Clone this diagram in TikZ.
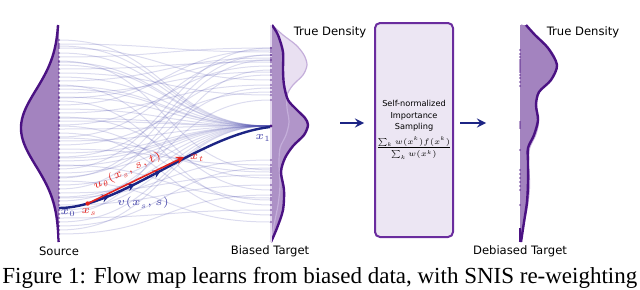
\RequirePackage{fix-cm}
\documentclass[tikz,border=0pt]{standalone}
\usepackage{amsmath,amssymb}
\usepackage{fontspec}
\setmainfont{Liberation Serif}
\newfontfamily\labfont{DejaVu Sans}
\usepackage{tikz}
\definecolor{densfill}{HTML}{A383BF}
\definecolor{densline}{HTML}{4B1283}
\definecolor{truefill}{HTML}{E3D8EE}
\definecolor{trueline}{HTML}{C4AEDA}
\definecolor{trajblue}{HTML}{5050AE}
\definecolor{navy}{HTML}{1C2484}
\definecolor{flowred}{HTML}{E3231E}
\definecolor{labblue}{HTML}{4242A8}
\definecolor{boxfill}{HTML}{ECE6F3}
\definecolor{boxline}{HTML}{6A2C9E}

\begin{document}
\begin{tikzpicture}[x=0.5pt,y=-0.5pt,
  traj/.style={trajblue,opacity=0.2,line width=0.5pt},
  dens/.style={densline,line width=1.2pt},
  samp/.style={densline,opacity=0.55},
  lab/.style={font=\labfont\fontsize{5.8}{7}\selectfont,inner sep=0pt},
  mathlab/.style={font=\fontsize{5.7}{7}\selectfont,inner sep=0pt},
  panelarr/.style={navy,line width=1pt,-stealth},
  tangarr/.style={navy,line width=0.8pt,-stealth}]
\useasboundingbox (0,0) rectangle (640,289);
\fill[densfill] (59,25) -- plot[domain=25:242,samples=80] ({59-38*exp(-(\x-128)*(\x-128)/2888)},\x) -- (59,242) -- cycle;
\draw[dens] plot[domain=25:242,samples=80] ({59-38*exp(-(\x-128)*(\x-128)/2888)},\x);
\draw[white,opacity=0.6,line width=0.5pt] (59,28) -- (59,238);
\fill[truefill,opacity=0.8] (271,25) -- plot[smooth] coordinates {(272,25) (283,35) (296,45) (304,55) (307,65) (303,75) (293,85) (287,95) (287,108) (289,122) (286,135) (280,148) (279,165) (280,185) (278,205) (274,225) (271,242)} -- cycle;
\fill[densfill,opacity=0.85] (271,25) -- plot[smooth] coordinates {(272,25) (278,35) (283,52) (283,70) (284,85) (288,100) (297,110) (305,118) (308,125) (304,135) (293,146) (285,158) (281,172) (284,190) (283,210) (277,228) (271,242)} -- cycle;
\draw[trueline,line width=0.6pt] plot[smooth] coordinates {(272,25) (283,35) (296,45) (304,55) (307,65) (303,75) (293,85) (287,95) (287,108) (289,122) (286,135) (280,148) (279,165) (280,185) (278,205) (274,225) (271,242)};
\draw[dens] plot[smooth] coordinates {(272,25) (278,35) (283,52) (283,70) (284,85) (288,100) (297,110) (305,118) (308,125) (304,135) (293,146) (285,158) (281,172) (284,190) (283,210) (277,228) (271,242)};
\draw[truefill,line width=0.6pt] (271,25) -- (271,242);
\foreach \a/\b in {40/126, 44/52, 48/80, 53/126, 57/48, 61/170, 65/126, 69/62, 73/95, 77/126, 81/58, 85/190, 89/126, 93/72, 97/126, 101/205, 105/50, 109/126, 113/85, 117/178, 121/126, 125/66, 129/126, 133/215, 137/55, 141/126, 145/92, 149/165, 153/126, 157/75, 161/126, 165/198, 169/48, 173/126, 177/88, 181/222, 185/126, 189/60, 193/175, 197/126, 201/100, 205/185, 210/126, 214/70, 218/210, 222/126, 226/168, 230/126, 234/195, 62/126, 98/60, 118/126, 138/172, 158/126, 178/55, 198/160, 46/126, 86/126, 126/200, 166/126}
  {\draw[traj] (59,\a) .. controls (165,\a) and (165,\b) .. (270,\b); \fill[samp] (59,\a) circle (0.6pt); \fill[samp] (271,\b) circle (0.6pt);}
\draw[navy,line width=1.2pt] (59,208) coordinate (x0) .. controls (120,208) and (200,135) .. (270,127) coordinate (x1) coordinate[pos=0.15] (xs) coordinate[pos=0.26] (c1) coordinate[pos=0.27] (c2) coordinate[pos=0.38] (c3) coordinate[pos=0.39] (c4) coordinate[pos=0.5] (c5);
\draw[tangarr] (xs) -- (c1); \draw[tangarr] (c2) -- (c3); \draw[tangarr] (c4) -- (c5);
\coordinate (xt) at (184,157);
\draw[flowred,line width=0.8pt,-stealth] (xs) -- (xt); \fill[flowred] (xs) circle (1.1pt);
\node[mathlab,text=labblue] (l0) at (68,213) {$x_0$}; \node[mathlab,text=flowred] (ls) at (89,212) {$x_s$};
\node[mathlab,text=labblue] (lv) at (143,203) {$v(x_s,s)$}; \node[mathlab,text=flowred,rotate=25.6] (lu) at (127,171) {$u_\theta(x_s,s,t)$};
\node[mathlab,text=flowred] (lt) at (197,158) {$x_t$}; \node[mathlab,text=labblue] (l1) at (263,138) {$x_1$};
\node[draw=boxline,fill=boxfill,rounded corners=2.5pt,line width=1pt,minimum width=39pt,minimum height=107pt,inner sep=0pt] (snis) at (414,130) {};
\node[align=center,inner sep=0pt,font=\labfont\fontsize{4.1}{5.75}\selectfont] (snistext) at (414,116) {Self-normalized\\Importance\\Sampling};
\node[inner sep=0pt,font=\fontsize{5.7}{6}\selectfont] (snisfrac) at (414,148) {$\frac{\sum_k w(x^k)f(x^k)}{\sum_k w(x^k)}$};
\coordinate (a1) at (340,123); \coordinate (a2) at (486,123);
\draw[panelarr,shorten >=5pt] (a1) -- (a1 -| snis.west); \draw[panelarr,shorten <=3pt] (a2 -| snis.east) -- (a2);
\draw[trueline,line width=1.2pt] plot[smooth] coordinates {(521,25) (532,35) (545,45) (553,55) (556,65) (552,75) (542,85) (536,95) (536,108) (538,122) (535,135) (529,148) (528,165) (529,185) (527,205) (523,225) (520,242)};
\fill[densfill] (520,25) -- plot[smooth] coordinates {(526,25) (535,35) (548,48) (557,65) (551,80) (539,92) (536,105) (538,120) (534,135) (528,148) (528,162) (528,182) (527,202) (524,222) (521,242)} -- (520,242) -- cycle;
\draw[dens] plot[smooth] coordinates {(526,25) (535,35) (548,48) (557,65) (551,80) (539,92) (536,105) (538,120) (534,135) (528,148) (528,162) (528,182) (527,202) (524,222) (521,242)};
\draw[densline,line width=1pt] (520,228) -- (520,242);
\foreach \c in {50,54,57,60,62,64,66,68,70,72,75,78,82,86,122,124,126,128,150,170,174,178,182,186,190,205} \fill[samp] (520,\c) circle (0.6pt);
\node[lab] (src) at (59,251) {Source}; \node[lab] (biased) at (270,251) {Biased Target}; \node[lab] (debiased) at (520,251) {Debiased Target};
\node[lab] (true1) at (330,32) {True Density}; \node[lab] (true2) at (583,32) {True Density};
\node[anchor=base west,inner sep=0pt,font=\fontsize{11.5}{13}\selectfont] (cap) at (2,283) {Figure 1: Flow map learns from biased data, with SNIS re-weighting};
\end{tikzpicture}
\end{document}
